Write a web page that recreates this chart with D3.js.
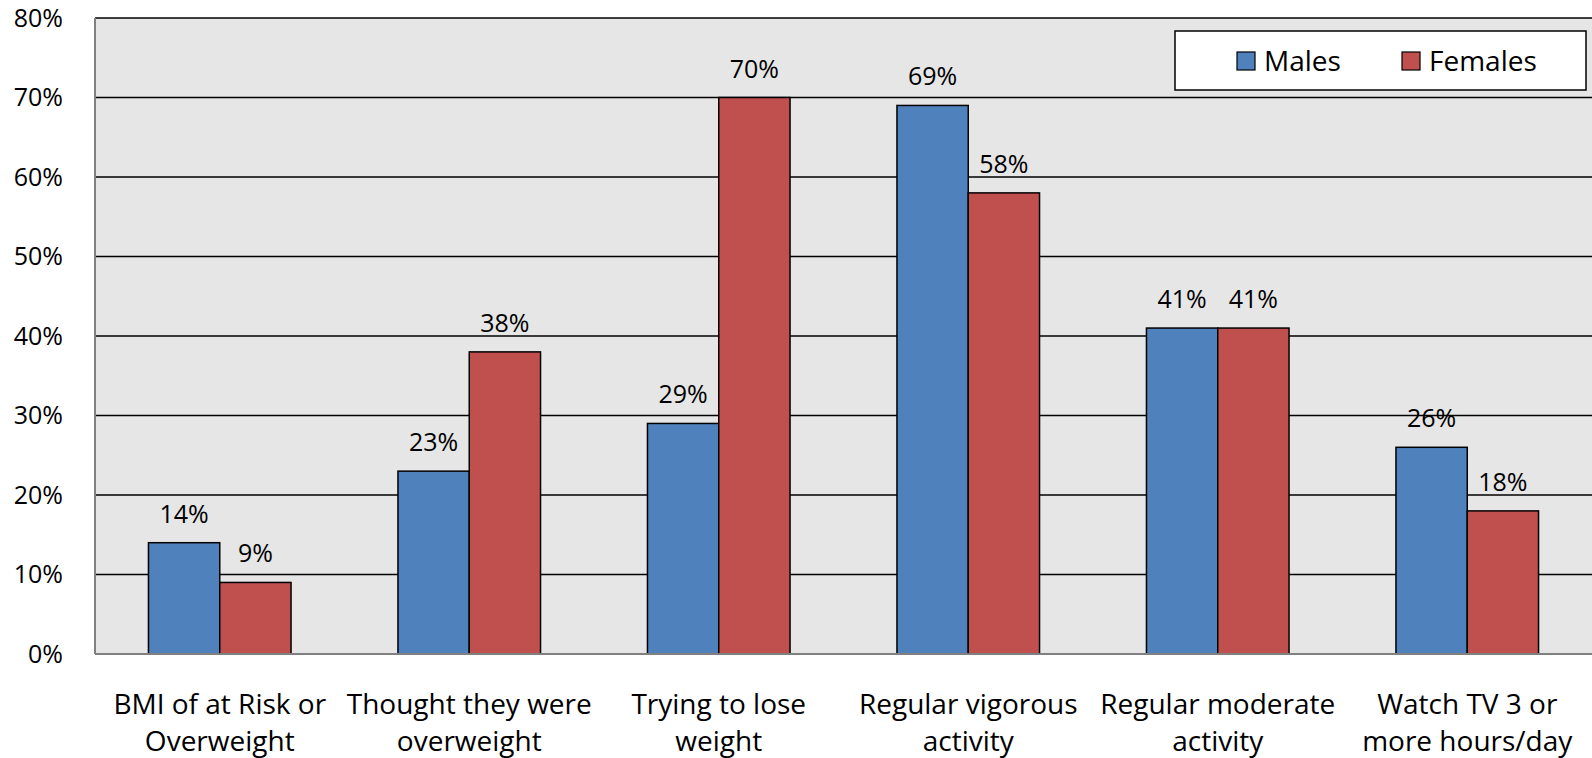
<!DOCTYPE html>
<html>
<head>
<meta charset="utf-8">
<script src="https://cdn.jsdelivr.net/npm/d3@7"></script>
<style>
  html, body { margin: 0; padding: 0; background: #fff; }
  svg { display: block; }
  text { font-family: "Open Sans", "Liberation Sans", sans-serif; fill: #000; }
</style>
</head>
<body>
<svg id="chart" width="1592" height="758"></svg>
<script>
const categories = [
  ["BMI of at Risk or", "Overweight"],
  ["Thought they were", "overweight"],
  ["Trying to lose", "weight"],
  ["Regular vigorous", "activity"],
  ["Regular moderate", "activity"],
  ["Watch TV 3 or", "more hours/day"]
];
const seriesNames = ["Males", "Females"];
const males = [14, 23, 29, 69, 41, 26];
const females = [9, 38, 70, 58, 41, 18];
const yTicks = [0, 10, 20, 30, 40, 50, 60, 70, 80];
const colors = ["#4F81BD", "#C0504D"];

const svg = d3.select("#chart");
const plot = { left: 95, top: 18, right: 1592, bottom: 654 };
const FS = 25, FS_CAT = 28;

const catKeys = categories.map((c, i) => i);
const x0 = d3.scaleBand().domain(catKeys).range([plot.left, plot.right]).padding(0);
const x1 = d3.scaleBand().domain(seriesNames).range([0, x0.bandwidth()]).paddingInner(0).paddingOuter(0.75);
const y = d3.scaleLinear().domain([0, 80]).range([plot.bottom, plot.top]);

svg.append("rect")
  .attr("x", plot.left).attr("y", plot.top)
  .attr("width", plot.right - plot.left).attr("height", plot.bottom - plot.top)
  .attr("fill", "#e6e6e6");

svg.append("g").selectAll("line").data(yTicks.filter(t => t > 0)).join("line")
  .attr("x1", plot.left).attr("x2", plot.right)
  .attr("y1", d => y(d)).attr("y2", d => y(d))
  .attr("stroke", "#000").attr("stroke-width", 1.5);

svg.append("g").selectAll("text").data(yTicks).join("text")
  .attr("x", 63).attr("y", d => y(d))
  .attr("dy", "0.35em")
  .attr("text-anchor", "end")
  .attr("font-size", FS)
  .text(d => d + "%");

const data = catKeys.map(i => ({ i, vals: [
  { s: "Males", v: males[i], c: colors[0] },
  { s: "Females", v: females[i], c: colors[1] }
]}));

const groups = svg.append("g").selectAll("g").data(data).join("g")
  .attr("transform", d => `translate(${x0(d.i)},0)`);

groups.selectAll("rect").data(d => d.vals).join("rect")
  .attr("x", d => x1(d.s))
  .attr("y", d => y(d.v))
  .attr("width", x1.bandwidth())
  .attr("height", d => y(0) - y(d.v))
  .attr("fill", d => d.c)
  .attr("stroke", "#000").attr("stroke-width", 1.5);

groups.selectAll("text").data(d => d.vals).join("text")
  .attr("x", d => x1(d.s) + x1.bandwidth() / 2)
  .attr("y", d => y(d.v) - 20)
  .attr("text-anchor", "middle")
  .attr("font-size", FS)
  .text(d => d.v + "%");

svg.append("line")
  .attr("x1", plot.left).attr("x2", plot.left)
  .attr("y1", plot.top).attr("y2", plot.bottom)
  .attr("stroke", "#808080").attr("stroke-width", 2);
svg.append("line")
  .attr("x1", plot.left).attr("x2", plot.right)
  .attr("y1", plot.bottom).attr("y2", plot.bottom)
  .attr("stroke", "#808080").attr("stroke-width", 2);

const catLabels = svg.append("g").selectAll("text").data(catKeys).join("text")
  .attr("text-anchor", "middle")
  .attr("font-size", FS_CAT);
catLabels.each(function(i) {
  const t = d3.select(this);
  categories[i].forEach((line, k) => {
    t.append("tspan")
      .attr("x", x0(i) + x0.bandwidth() / 2)
      .attr("y", 714 + k * 37)
      .text(line);
  });
});

const lg = svg.append("g");
lg.append("rect")
  .attr("x", 1175).attr("y", 31).attr("width", 411).attr("height", 59)
  .attr("fill", "#fff").attr("stroke", "#000").attr("stroke-width", 1.5);
const legItems = [{ s: "Males", x: 1237 }, { s: "Females", x: 1402 }];
legItems.forEach((d, k) => {
  lg.append("rect")
    .attr("x", d.x).attr("y", 52).attr("width", 18).attr("height", 18)
    .attr("fill", colors[k]).attr("stroke", "#000").attr("stroke-width", 1.2);
  lg.append("text")
    .attr("x", d.x + 27).attr("y", 61).attr("dy", "0.35em")
    .attr("font-size", FS_CAT)
    .text(d.s);
});
</script>
</body>
</html>
